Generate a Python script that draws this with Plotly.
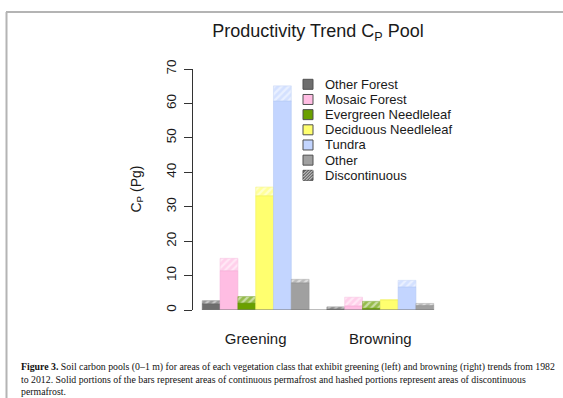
import plotly.graph_objects as go

# ---- data (Pg of soil carbon, 0-1 m) ----
groups = ["Greening", "Browning"]
classes = ["Other Forest", "Mosaic Forest", "Evergreen Needleleaf",
           "Deciduous Needleleaf", "Tundra", "Other"]
continuous_greening = [1.8, 11.4, 2.0, 33.2, 60.7, 7.9]
continuous_browning = [0.3, 1.2, 0.5, 2.9, 6.7, 1.3]
discontinuous_greening = [0.9, 3.6, 1.9, 2.5, 4.4, 1.0]
discontinuous_browning = [0.6, 2.5, 2.0, 0.1, 1.9, 0.6]
y_ticks = [0, 10, 20, 30, 40, 50, 60, 70]

colors = ["#6E6E6E", "#FFBDE3", "#6AA000", "#FFFF6F", "#C3D5FF", "#A0A0A0"]
edges = ["#646464", "#F5AFD8", "#5E9400", "#F2F260", "#B5C9F5", "#959595"]

W, H = 563, 398
ML, MR, MT, MB = 193, 120, 69, 88
PW, PH = W - ML - MR, H - MT - MB


def px(x):
    return (x - ML) / PW


def py(y):
    return (H - MB - y) / PH


fig = go.Figure()
for i, name in enumerate(classes):
    solid = [continuous_greening[i], continuous_browning[i]]
    hatch = [discontinuous_greening[i], discontinuous_browning[i]]
    fig.add_trace(go.Bar(
        x=groups, y=solid, name=name, offsetgroup=str(i),
        marker=dict(color=colors[i], line=dict(color=edges[i], width=0.6)),
        showlegend=False))
    fig.add_trace(go.Bar(
        x=groups, y=hatch, base=solid, name=name + " (discontinuous)",
        offsetgroup=str(i),
        marker=dict(color=colors[i], opacity=0.7,
                    line=dict(color=edges[i], width=0.6),
                    pattern=dict(shape="/", fgcolor="white", size=5,
                                 solidity=0.45, fillmode="overlay")),
        showlegend=False))

shapes = []
# outer frame (top and left rules)
shapes.append(dict(type="line", xref="paper", yref="paper",
                   x0=px(6), x1=px(W), y0=py(12), y1=py(12),
                   line=dict(color="#B4B4B4", width=2)))
shapes.append(dict(type="line", xref="paper", yref="paper",
                   x0=px(6.5), x1=px(6.5), y0=py(12), y1=py(H),
                   line=dict(color="#B4B4B4", width=2)))
# baseline under the bars
shapes.append(dict(type="line", xref="paper", yref="y",
                   x0=px(203), x1=px(434), y0=0, y1=0,
                   line=dict(color="#7A7A7A", width=1)))

annotations = []
# legend
legend_labels = classes + ["Discontinuous"]
legend_fill = colors + ["#6E6E6E"]
for k, lab in enumerate(legend_labels):
    yc = 84.3 + k * 15.17
    shapes.append(dict(type="rect", xref="paper", yref="paper",
                       x0=px(303), x1=px(313), y0=py(yc - 5), y1=py(yc + 5),
                       fillcolor=legend_fill[k],
                       line=dict(color="#505050", width=1)))
    annotations.append(dict(text=lab, xref="paper", yref="paper",
                            x=px(323), y=py(yc), xanchor="left",
                            yanchor="middle", showarrow=False,
                            font=dict(family="Liberation Sans", size=13,
                                      color="#1A1A1A")))
# hatch strokes on the discontinuous swatch
yc = 84.3 + 6 * 15.17
for d in (-6, -3, 0, 3, 6):
    x0, x1 = 303 + d, 313 + d
    y0, y1 = yc + 5, yc - 5
    # clip stroke to the swatch square
    if x0 < 303:
        y0 -= 303 - x0
        x0 = 303
    if x1 > 313:
        y1 += x1 - 313
        x1 = 313
    shapes.append(dict(type="line", xref="paper", yref="paper",
                       x0=px(x0), x1=px(x1), y0=py(y0), y1=py(y1),
                       line=dict(color="#D8D8D8", width=1)))

# y axis title
annotations.append(dict(text="C<sub>P</sub> (Pg)", xref="paper", yref="paper",
                        x=px(136), y=py(189.5), textangle=-90,
                        xanchor="center", yanchor="middle", showarrow=False,
                        font=dict(family="Liberation Sans", size=14,
                                  color="#1A1A1A")))
# figure caption
caption = ("<b>Figure 3.</b> Soil carbon pools (0–1 m) for areas of each vegetation "
           "class that exhibit greening (left) and browning (right) trends from 1982"
           "<br>to 2012. Solid portions of the bars represent areas of continuous "
           "permafrost and hashed portions represent areas of discontinuous"
           "<br>permafrost.")
annotations.append(dict(text=caption, xref="paper", yref="paper",
                        x=px(19), y=py(359), xanchor="left", yanchor="top",
                        align="left", showarrow=False,
                        font=dict(family="Liberation Serif", size=9.8,
                                  color="#111111")))

fig.update_layout(
    width=W, height=H,
    margin=dict(l=ML, r=MR, t=MT, b=MB, autoexpand=False),
    paper_bgcolor="white", plot_bgcolor="white",
    barmode="group", bargap=1 / 7, bargroupgap=0,
    title=dict(text="Productivity Trend C<sub>P</sub> Pool",
               x=px(318), xref="paper", xanchor="center",
               y=1 - 31 / H, yanchor="middle",
               font=dict(family="Liberation Sans", size=18, color="#1A1A1A")),
    shapes=shapes, annotations=annotations,
    font=dict(family="Liberation Sans"),
)
fig.update_xaxes(type="category", categoryorder="array", categoryarray=groups,
                 range=[-0.503, 1.503], showline=False, showgrid=False,
                 zeroline=False, ticks="", ticklabelstandoff=18,
                 tickfont=dict(family="Liberation Sans", size=15, color="#1A1A1A"))
fig.update_yaxes(range=[0, 70], tickvals=y_ticks, ticks="outside", ticklen=8,
                 tickcolor="#333333", tickwidth=1, showline=True,
                 linecolor="#333333", linewidth=1, showgrid=False,
                 zeroline=False, tickangle=-90, ticklabelstandoff=3,
                 tickfont=dict(family="Liberation Sans", size=13.5, color="#1A1A1A"))

fig.write_html("out.html")
